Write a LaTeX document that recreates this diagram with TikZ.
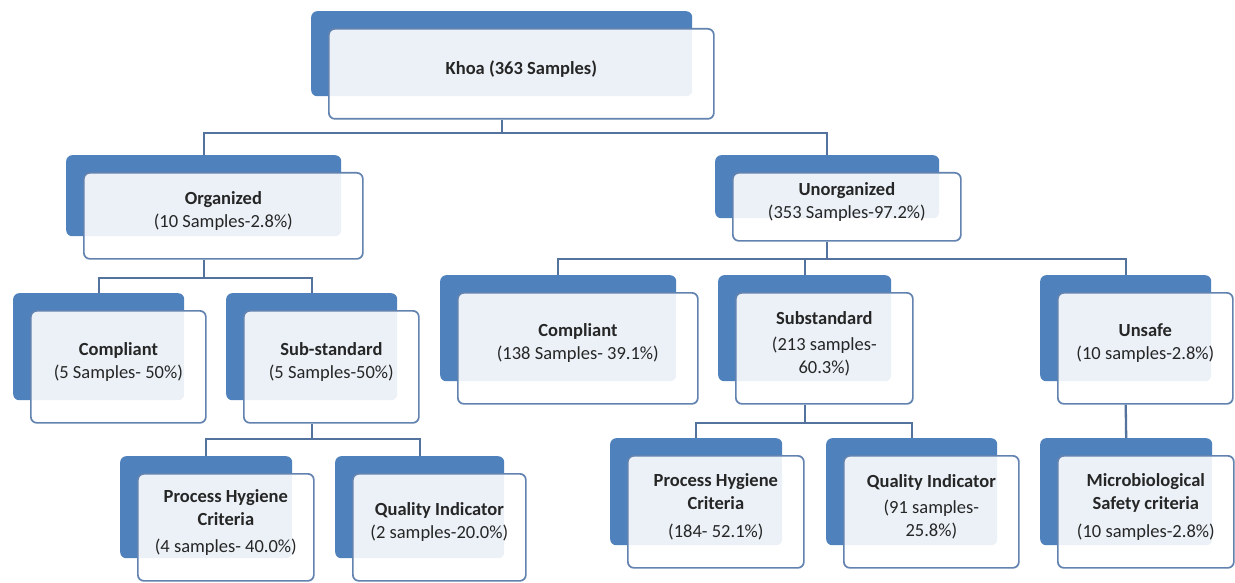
\documentclass[tikz,border=0pt]{standalone}
\usepackage{fontspec}
\setmainfont{Carlito}
\usetikzlibrary{calc,backgrounds}
\definecolor{bk}{RGB}{79,129,189}
\definecolor{bd}{RGB}{98,130,175}
\definecolor{ln}{RGB}{84,114,158}
\tikzset{
  backbox/.style={fill=bk, draw=none, rounded corners=6pt, inner sep=0pt},
  frontbox/.style={fill=white, fill opacity=0.89, draw=bd, draw opacity=1, line width=1.7pt, rounded corners=6pt, inner sep=0pt},
  txt/.style={align=center, font=\fontsize{18.5}{23}\selectfont, inner sep=0pt, text=black!85},
  conn/.style={draw=ln, line width=2.3pt}
}
\newcommand\tbox[6]{%
  \node[backbox, minimum width={#4-#2-4}, minimum height={#5-#3-5}, anchor=north west] (#1-b) at ({#2-17},{#3-17}) {};
  \node[frontbox, minimum width={#4-#2}, minimum height={#5-#3}, anchor=north west] (#1) at (#2,#3) {};
  \node[txt] (#1-t) at ([yshift=5pt]#1.center) {#6};
}
\begin{document}
\begin{tikzpicture}[x=1pt,y=-1pt]
\useasboundingbox (0,0) rectangle (1235,583);
\tbox{khoa}{328}{28}{713}{118}{\textbf{Khoa (363 Samples)}}
\tbox{org}{83}{172}{362}{258}{\textbf{Organized}\\(10 Samples-2.8\%)}
\tbox{unorg}{732}{172}{960}{240}{\textbf{Unorganized}\\(353 Samples-97.2\%)}
\tbox{lcomp}{30}{310}{205}{422}{\textbf{Compliant}\\(5 Samples- 50\%)}
\tbox{lsub}{243}{310}{418}{422}{\textbf{Sub-standard}\\(5 Samples-50\%)}
\tbox{lphc}{137}{473}{313}{580}{\textbf{Process Hygiene}\\\textbf{Criteria}\\[4pt](4 samples- 40.0\%)}
\tbox{lqi}{352}{473}{525}{580}{\textbf{Quality Indicator}\\(2 samples-20.0\%)}
\tbox{rcomp}{457}{292}{697}{403}{\textbf{Compliant}\\(138 Samples- 39.1\%)}
\tbox{rsub}{735}{292}{912}{403}{\textbf{Substandard}\\[3pt](213 samples-\\60.3\%)}
\tbox{unsafe}{1057}{292}{1232}{403}{\textbf{Unsafe}\\(10 samples-2.8\%)}
\tbox{rphc}{627}{455}{803}{567}{\textbf{Process Hygiene}\\\textbf{Criteria}\\[5pt](184- 52.1\%)}
\tbox{rqi}{843}{455}{1018}{567}{\textbf{Quality Indicator}\\[3pt](91 samples-\\25.8\%)}
\tbox{micro}{1057}{455}{1233}{567}{\textbf{Microbiological}\\\textbf{Safety criteria}\\[5pt](10 samples-2.8\%)}
\begin{pgfonlayer}{background}
\fill[white] (0,0) rectangle (1235,583);
\draw[conn] (khoa-b |- khoa.south) -- ++(0,13) -| (org-b.north);
\draw[conn] (khoa-b |- khoa.south) -- ++(0,13) -| (unorg-b.north);
\draw[conn] (org-b |- org.south) -- ++(0,18) -| (lcomp-b.north);
\draw[conn] (org-b |- org.south) -- ++(0,18) -| (lsub-b.north);
\draw[conn] (lsub-b |- lsub.south) -- ++(0,15) -| (lphc-b.north);
\draw[conn] (lsub-b |- lsub.south) -- ++(0,15) -| (lqi-b.north);
\draw[conn] (unorg-b |- unorg.south) -- ++(0,17) -| (rcomp-b.north);
\draw[conn] (unorg-b |- unorg.south) -- ++(0,17) -| (rsub-b.north);
\draw[conn] (unorg-b |- unorg.south) -- ++(0,17) -| (unsafe-b.north);
\draw[conn] (rsub-b |- rsub.south) -- ++(0,18) -| (rphc-b.north);
\draw[conn] (rsub-b |- rsub.south) -- ++(0,18) -| (rqi-b.north);
\draw[conn] (unsafe-b |- unsafe.south) -- (micro-b.north);
\end{pgfonlayer}
\end{tikzpicture}
\end{document}
